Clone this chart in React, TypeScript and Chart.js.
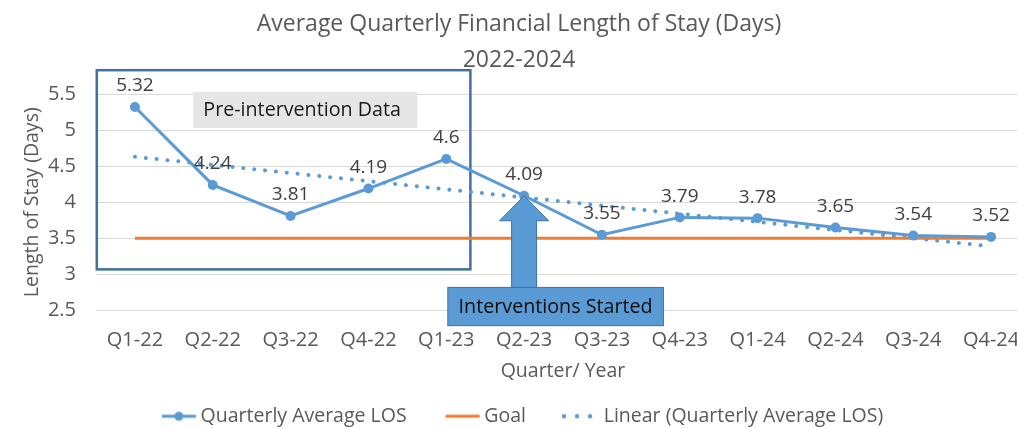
import React, { useEffect, useRef } from "react";
import { Chart, registerables } from "chart.js";

Chart.register(...registerables);

const categories = ["Q1-22", "Q2-22", "Q3-22", "Q4-22", "Q1-23", "Q2-23", "Q3-23", "Q4-23", "Q1-24", "Q2-24", "Q3-24", "Q4-24"];
const losValues = [5.32, 4.24, 3.81, 4.19, 4.6, 4.09, 3.55, 3.79, 3.78, 3.65, 3.54, 3.52];
const goalValues = [3.5, 3.5, 3.5, 3.5, 3.5, 3.5, 3.5, 3.5, 3.5, 3.5, 3.5, 3.5];
// Linear trendline: read its two end points, drawn straight between them
const trendValues: (number | null)[] = [4.63, null, null, null, null, null, null, null, null, null, null, 3.39];
const yTickValues = [2.5, 3, 3.5, 4, 4.5, 5, 5.5];
const yTickLabels = ["2.5", "3", "3.5", "4", "4.5", "5", "5.5"];
const seriesLabels = ["Quarterly Average LOS", "Goal", "Linear (Quarterly Average LOS)"];
const titleLines = ["Average Quarterly Financial Length of Stay (Days)", "2022-2024"];
const yAxisTitle = "Length of Stay (Days)";
const xAxisTitle = "Quarter/ Year";
const boxLabel = "Pre-intervention Data";
const arrowLabel = "Interventions Started";
const arrowIndex = 5;

const FONT = '"Open Sans", Lato, sans-serif';
const BLUE = "#5B9BD5";
const DARKBLUE = "#41719C";
const ORANGE = "#ED7D31";
const GREY_TEXT = "#595959";

function makeIcon(kind: number): HTMLCanvasElement {
  const c = document.createElement("canvas");
  c.width = 70;
  c.height = 14;
  const g = c.getContext("2d")!;
  const cy = 7;
  if (kind === 0) {
    g.strokeStyle = BLUE;
    g.lineWidth = 3;
    g.beginPath();
    g.moveTo(35, cy);
    g.lineTo(69, cy);
    g.stroke();
    g.fillStyle = BLUE;
    g.beginPath();
    g.arc(52, cy, 4.5, 0, Math.PI * 2);
    g.fill();
  } else if (kind === 1) {
    g.strokeStyle = ORANGE;
    g.lineWidth = 3;
    g.beginPath();
    g.moveTo(35, cy);
    g.lineTo(69, cy);
    g.stroke();
  } else {
    g.fillStyle = BLUE;
    [34, 47, 60].forEach((x) => {
      g.beginPath();
      g.arc(x, cy, 2.2, 0, Math.PI * 2);
      g.fill();
    });
  }
  return c;
}

const legendShiftPlugin = {
  id: "legendShift",
  afterLayout(chart: any) {
    if (chart.legend) chart.legend.left -= 22;
  },
};

const annotationPlugin = {
  id: "losAnnotations",
  beforeDatasetsDraw(chart: any) {
    const { ctx, scales } = chart;
    const x = scales.x;
    const y = scales.y;
    ctx.save();
    // Pre-intervention box
    const l = x.getPixelForValue(-0.49);
    const r = x.getPixelForValue(4.31);
    const t = y.getPixelForValue(5.83);
    const b = y.getPixelForValue(3.07);
    ctx.strokeStyle = DARKBLUE;
    ctx.lineWidth = 2.5;
    ctx.strokeRect(l, t, r - l, b - t);
    // grey label
    const gl = x.getPixelForValue(0.75);
    const gr = x.getPixelForValue(3.63);
    const gt = y.getPixelForValue(5.53);
    const gb = y.getPixelForValue(5.03);
    ctx.fillStyle = "#E7E6E6";
    ctx.fillRect(gl, gt, gr - gl, gb - gt);
    ctx.fillStyle = "#1A1A1A";
    ctx.font = `19.7px ${FONT}`;
    ctx.textAlign = "left";
    ctx.textBaseline = "middle";
    ctx.fillText(boxLabel, gl + 10, (gt + gb) / 2 + 1);
    ctx.restore();
  },
  afterDatasetsDraw(chart: any) {
    const { ctx, scales } = chart;
    const x = scales.x;
    const y = scales.y;
    ctx.save();
    // Arrow
    const meta = chart.getDatasetMeta(0);
    const tip = meta.data[arrowIndex];
    const tx = tip.x;
    const ty = tip.y;
    const boxTop = y.getPixelForValue(2.82);
    const headBase = ty + 25;
    ctx.beginPath();
    ctx.moveTo(tx, ty);
    ctx.lineTo(tx + 24.5, headBase);
    ctx.lineTo(tx + 12.5, headBase);
    ctx.lineTo(tx + 12.5, boxTop);
    ctx.lineTo(tx - 12.5, boxTop);
    ctx.lineTo(tx - 12.5, headBase);
    ctx.lineTo(tx - 24.5, headBase);
    ctx.closePath();
    ctx.fillStyle = BLUE;
    ctx.fill();
    ctx.strokeStyle = DARKBLUE;
    ctx.lineWidth = 1;
    ctx.stroke();
    // text box
    const bl = x.getPixelForValue(4.02);
    const br = x.getPixelForValue(6.79);
    const bb = y.getPixelForValue(2.29);
    ctx.fillStyle = BLUE;
    ctx.fillRect(bl, boxTop, br - bl, bb - boxTop);
    ctx.strokeRect(bl, boxTop, br - bl, bb - boxTop);
    ctx.fillStyle = "#0D0D0D";
    ctx.font = `19.7px ${FONT}`;
    ctx.textAlign = "center";
    ctx.textBaseline = "middle";
    ctx.fillText(arrowLabel, (bl + br) / 2, (boxTop + bb) / 2 + 1);
    // data labels
    ctx.fillStyle = "#404040";
    ctx.font = `19px ${FONT}`;
    meta.data.forEach((pt: any, i: number) => {
      ctx.fillText(String(losValues[i]), pt.x, pt.y - 21);
    });
    ctx.restore();
  },
};

export default function App() {
  const ref = useRef<HTMLCanvasElement>(null);
  useEffect(() => {
    if (!ref.current) return;
    const icons = [makeIcon(0), makeIcon(1), makeIcon(2)];
    const chart = new Chart(ref.current, {
      type: "line",
      data: {
        labels: categories,
        datasets: [
          {
            label: seriesLabels[0],
            data: losValues,
            borderColor: BLUE,
            backgroundColor: BLUE,
            borderWidth: 3,
            pointRadius: 5,
            pointBackgroundColor: BLUE,
            pointBorderWidth: 0,
            tension: 0,
          },
          {
            label: seriesLabels[1],
            data: goalValues,
            borderColor: ORANGE,
            backgroundColor: ORANGE,
            borderWidth: 3,
            pointRadius: 0,
          },
          {
            label: seriesLabels[2],
            data: trendValues,
            borderColor: BLUE,
            backgroundColor: BLUE,
            borderWidth: 4,
            borderDash: [0.1, 10.8],
            borderCapStyle: "round",
            pointRadius: 0,
            spanGaps: true,
          },
        ],
      },
      options: {
        responsive: false,
        animation: false,
        layout: { padding: { left: 8, right: 10, top: 0, bottom: 0 } },
        plugins: {
          tooltip: { enabled: false },
          title: {
            display: true,
            text: titleLines,
            color: GREY_TEXT,
            font: { family: FONT, size: 23, weight: "normal", lineHeight: 36 / 23 },
            padding: { top: 6, bottom: 16 },
          },
          legend: {
            position: "bottom",
            labels: {
              usePointStyle: true,
              pointStyleWidth: 58,
              padding: 10,
              color: GREY_TEXT,
              font: { family: FONT, size: 19.5 },
              generateLabels: (c: any) =>
                c.data.datasets.map((ds: any, i: number) => ({
                  text: ds.label,
                  pointStyle: icons[i],
                  fillStyle: "rgba(0,0,0,0)",
                  strokeStyle: "rgba(0,0,0,0)",
                  lineWidth: 0,
                  hidden: false,
                  datasetIndex: i,
                  fontColor: GREY_TEXT,
                })),
            },
          },
        },
        scales: {
          x: {
            offset: true,
            grid: { display: false, drawTicks: false },
            border: { display: false },
            ticks: { color: GREY_TEXT, font: { family: FONT, size: 20 }, padding: 18, maxRotation: 0, autoSkip: false },
            title: {
              display: true,
              text: xAxisTitle,
              color: GREY_TEXT,
              font: { family: FONT, size: 19.5 },
              padding: { top: 0, bottom: 13.3 },
            },
            afterFit: (s: any) => {
              s.height = 86;
            },
          },
          y: {
            min: 2.5,
            max: 5.5,
            grid: { color: "#D9D9D9", lineWidth: 1, drawTicks: false },
            border: { display: false },
            afterBuildTicks: (s: any) => {
              s.ticks = yTickValues.map((v) => ({ value: v }));
            },
            ticks: {
              color: GREY_TEXT,
              font: { family: FONT, size: 20 },
              padding: 20,
              callback: (v: any) => {
                const i = yTickValues.indexOf(Number(v));
                return i >= 0 ? yTickLabels[i] : "";
              },
            },
            title: {
              display: true,
              text: yAxisTitle,
              color: GREY_TEXT,
              font: { family: FONT, size: 19.5 },
              padding: { top: 12.3, bottom: 0 },
            },
            afterFit: (s: any) => {
              s.width = 88;
            },
          },
        },
      },
      plugins: [annotationPlugin, legendShiftPlugin],
    } as any);
    return () => chart.destroy();
  }, []);
  return (
    <div style={{ position: "absolute", left: 0, top: 0, width: 1017, height: 428, overflow: "hidden", background: "#fff" }}>
      <canvas ref={ref} width={1040} height={436} style={{ display: "block" }} />
    </div>
  );
}
